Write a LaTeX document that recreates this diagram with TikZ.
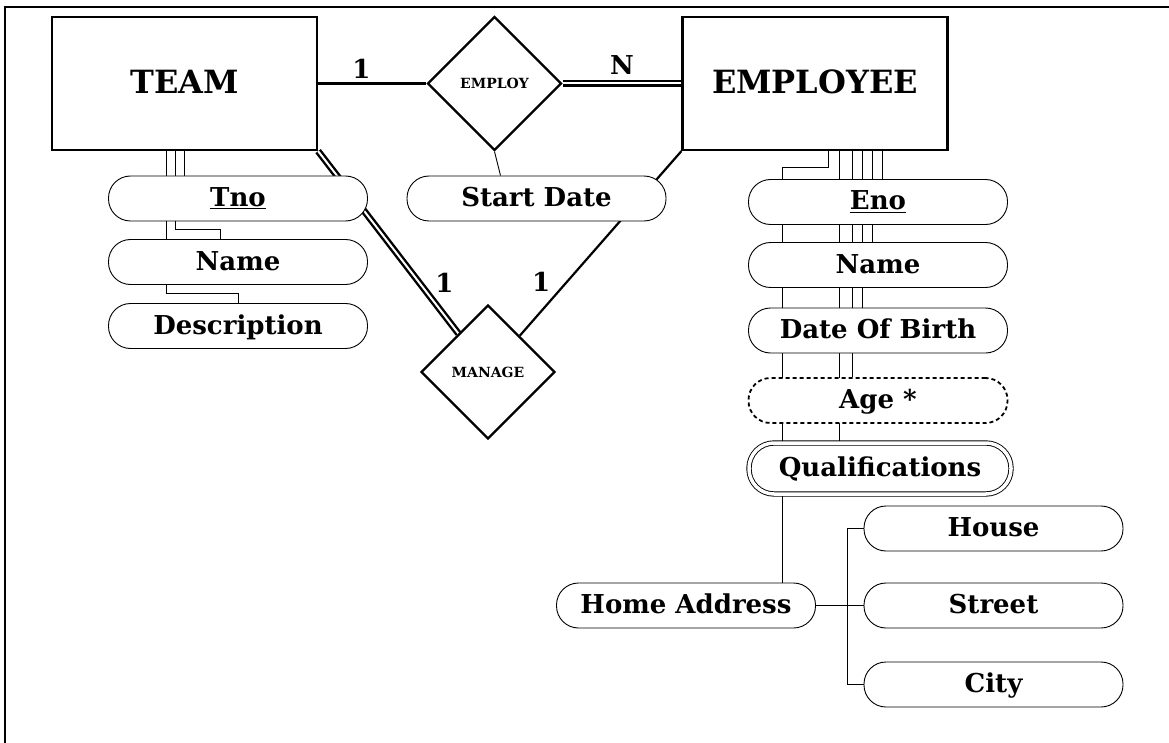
\documentclass[tikz,border=0pt]{standalone}
\usepackage{fontspec}
\setmainfont{DejaVu Serif}
\usetikzlibrary{shapes.geometric,backgrounds}
\begin{document}
\begin{tikzpicture}
[x=1pt,y=-1pt,
  entitydecorate/.style={shape=rectangle,draw,line width=2.2pt,fill=white,
    minimum width=265pt,minimum height=133pt,text depth=4pt,
    font=\fontsize{32}{36}\selectfont\bfseries},%
  reldecorate/.style={shape=diamond,draw,line width=2.2pt,fill=white,inner sep=0pt,
    minimum width=134pt,minimum height=134pt,font=\fontsize{14}{16}\selectfont\bfseries},%
  attrdecorate/.style={shape=rectangle,draw,line width=0.9pt,fill=white,rounded corners=22pt,
    minimum width=259pt,minimum height=45pt,inner sep=0pt,text height=21pt,text depth=5pt,
    font=\fontsize{26}{30}\selectfont\bfseries},%
  derivedattr/.style={attrdecorate,dash pattern=on 4pt off 3pt,line width=1.8pt},%
  multiattr/.style={attrdecorate,double,double distance=3.5pt,
    minimum width=262pt,minimum height=51pt,rounded corners=25pt},%
  linedecorate/.style={-,line width=2.2pt},%
  doubledecorate/.style={-,line width=2.4pt,double,double distance=2pt},%
  attrline/.style={-,line width=0.9pt},%
  cardinality/.style={font=\fontsize{26}{30}\selectfont\bfseries,inner sep=3pt}]
\useasboundingbox (0,0) rectangle (1169,743);
\draw[line width=2pt] (1180,7) -| (5,750);
%% entities and relationships
\node (TEAM) at (184.5,83.5) [entitydecorate] {TEAM};
\node (EMPLOYEE) at (815,83.5) [entitydecorate] {EMPLOYEE};
\node (EMPLOY) at (494.5,83.5) [reldecorate] {EMPLOY};
\node (MANAGE) at (488,372) [reldecorate] {MANAGE};
%% attributes
\foreach \nodename/\x/\y/\txt in {Tno/238/198.5/\underline{Tno}, TName/238/262/Name,
  Description/238/326/Description, StartDate/536.5/198.5/Start Date,
  Eno/878/202/\underline{Eno}, EName/878/265/Name, DOB/878/330.5/Date Of Birth,
  HomeAddr/686/605.5/Home Address, House/993.5/528.5/House,
  Street/993.5/605.5/Street, City/993.5/684.5/City} {
  \node (\nodename) at (\x,\y) [attrdecorate] {\txt};
}
\node (Age) at (878,400.5) [derivedattr] {Age *};
\node (Qual) at (880,468.5) [multiattr] {Qualifications};
%% edges or lines
\begin{scope}[on background layer]
\path (TEAM) edge[linedecorate] node[cardinality,pos=0.4,above=1pt] {1} (EMPLOY)
  (EMPLOY) edge[doubledecorate] node[cardinality,midway,above=5pt] {N} (EMPLOYEE)
  (TEAM.south east) edge[doubledecorate] node[cardinality,pos=0.72,right=12pt] {1} (MANAGE)
  (EMPLOYEE.south west) edge[linedecorate] node[cardinality,pos=0.706,left=13pt] {1} (MANAGE);
\draw[attrline] (EMPLOY.south) -- ([xshift=-36]StartDate.north);
%% team attributes
\draw[attrline] (TEAM.south) -- (TEAM.south |- Tno.north);
\draw[attrline] ([xshift=-9.5]TEAM.south) |- ([xshift=-18,yshift=10]TName.north)
  -- ([xshift=-18]TName.north);
\draw[attrline] ([xshift=-18.5]TEAM.south) |- ([yshift=10]Description.north)
  -- (Description.north);
%% employee attributes
\foreach \attr/\dx in {Eno/67, EName/57, DOB/47, Age/37, Qual/24} {
  \draw[attrline] ([xshift=\dx]EMPLOYEE.south) coordinate (top) -- (top |- \attr.north);
}
\draw[attrline] ([xshift=13]EMPLOYEE.south) -- ++(0,16) -| ([xshift=96]HomeAddr.north);
\foreach \part in {House,Street,City} {
  \draw[attrline] (HomeAddr.east) -- ++(31,0) |- (\part.west);
}
\end{scope}
\end{tikzpicture}
\end{document}
